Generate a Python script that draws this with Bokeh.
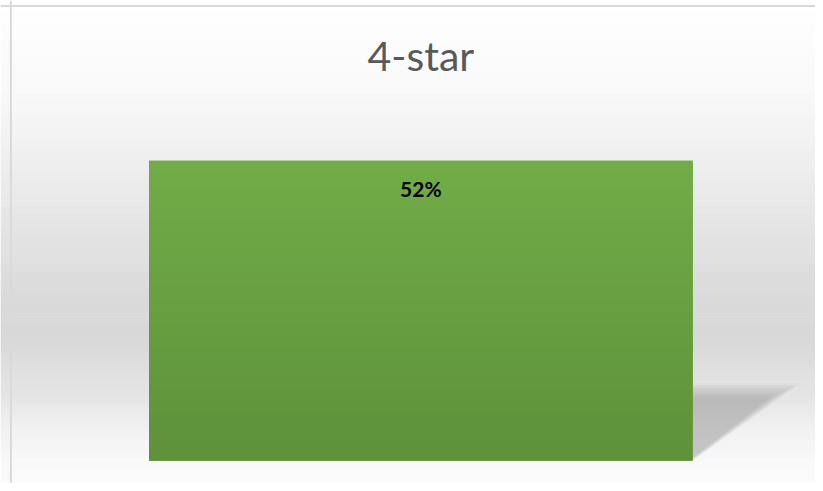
import numpy as np
from bokeh.plotting import figure
from bokeh.models import ColumnDataSource, Range1d, BoxAnnotation, Label, Span, PolyAnnotation
from bokeh.core.properties import value
from bokeh.embed import file_html
from bokeh.resources import INLINE

# ---- data ----
categories = ["4-star"]
shares = [0.52]
title_text = "4-star"
labels = [f"{round(s * 100)}%" for s in shares]

# ---- layout (styling) ----
W, H = 815, 483
SX, SY = W / 823.0, H / 491.0      # reference-pixel -> canvas-pixel scale
BAR_W = 0.6
CX = (150 + 699) / 2 * SX           # canvas x of category centre
PX_X = (699 - 150) * SX / BAR_W     # pixels per x unit
BASE = 468 * SY                     # canvas y of value 0
PX_Y = (468 - 163) * SY / shares[0] # pixels per y unit
x_start, x_end = -CX / PX_X, (W - CX) / PX_X
y_start, y_end = -(H - BASE) / PX_Y, BASE / PX_Y


def ref_to_y(py):
    return (BASE - py * SY) / PX_Y


def hexgray(g):
    g = int(round(g))
    return "#%02x%02x%02x" % (g, g, g)


def hexrgb(c):
    return "#%02x%02x%02x" % tuple(int(round(v)) for v in c)


xs = list(range(len(categories)))
source = ColumnDataSource(data=dict(x=xs, top=shares, label=labels, cat=categories))

p = figure(width=W, height=H, output_backend="svg", toolbar_location=None,
           x_range=Range1d(x_start, x_end), y_range=Range1d(y_start, y_end),
           x_axis_location=None, y_axis_location=None, min_border=0,
           min_border_left=0, min_border_right=0, min_border_top=0, min_border_bottom=0)
p.grid.visible = False
p.outline_line_color = None
p.background_fill_color = "#ffffff"
p.border_fill_color = "#ffffff"

# background gradient (white -> grey -> white), stops in reference pixels
stop_py = [0, 5, 100, 200, 300, 340, 400, 433, 470, 491]
stop_g = [255, 255, 248, 233, 218, 216, 228, 240, 249, 251]
step = 3
for py in range(0, 492, step):
    g = np.interp(py + step / 2, stop_py, stop_g)
    p.add_layout(BoxAnnotation(top=ref_to_y(py), bottom=ref_to_y(py + step + 0.5),
                               fill_color=hexgray(g), fill_alpha=1.0,
                               line_color=None, level="image"))

# soft shadow to the right of the bar
for i, v in enumerate(shares):
    r = xs[i] + BAR_W / 2
    h = v * 0.235
    dx = 0.113
    n = 10
    for k in range(n):
        t = k / (n - 1)
        top = h * (1.10 - 0.2 * t)
        tip = r + dx * (1.05 - 0.3 * t)
        p.add_layout(PolyAnnotation(xs=[r, r, tip], ys=[0.0 + 0.006 * t, top, top],
                                    fill_color="#7a7a7a", fill_alpha=0.045,
                                    line_color=None, level="underlay"))

# the bar
p.vbar(x="x", top="top", width=BAR_W, source=source,
       fill_color="#67a041", line_color=None)

# bar gradient
c_top = np.array([113, 173, 71])
c_bot = np.array([94, 145, 59])
for i, v in enumerate(shares):
    n = 80
    for k in range(n):
        f = (k + 0.5) / n
        col = c_bot + (c_top - c_bot) * f
        p.add_layout(BoxAnnotation(left=xs[i] - BAR_W / 2, right=xs[i] + BAR_W / 2,
                                   bottom=v * k / n, top=min(v, v * (k + 1) / n + v * 0.004),
                                   fill_color=hexrgb(col), fill_alpha=1.0,
                                   line_color=None, level="annotation"))

# data label
p.text(x="x", y="top", text="label", source=source,
       text_align="center", text_baseline="top", y_offset=15,
       text_font=value("Lato"), text_font_style="bold", text_font_size="21px",
       text_color="#000000", level="overlay")

# title
p.add_layout(Label(x=0, y=ref_to_y(56), text=title_text, text_align="center",
                   text_baseline="middle", text_font="Lato", text_font_size="41px",
                   text_color="#595959"))

# chart border (left and top visible)
p.add_layout(Span(location=x_start + 10.5 * SX / PX_X, dimension="height",
                  line_color="#d9d9d9", line_width=2))
p.add_layout(Span(location=ref_to_y(5.5), dimension="width",
                  line_color="#d9d9d9", line_width=2))

open("out.html", "w").write(file_html(p, INLINE))
